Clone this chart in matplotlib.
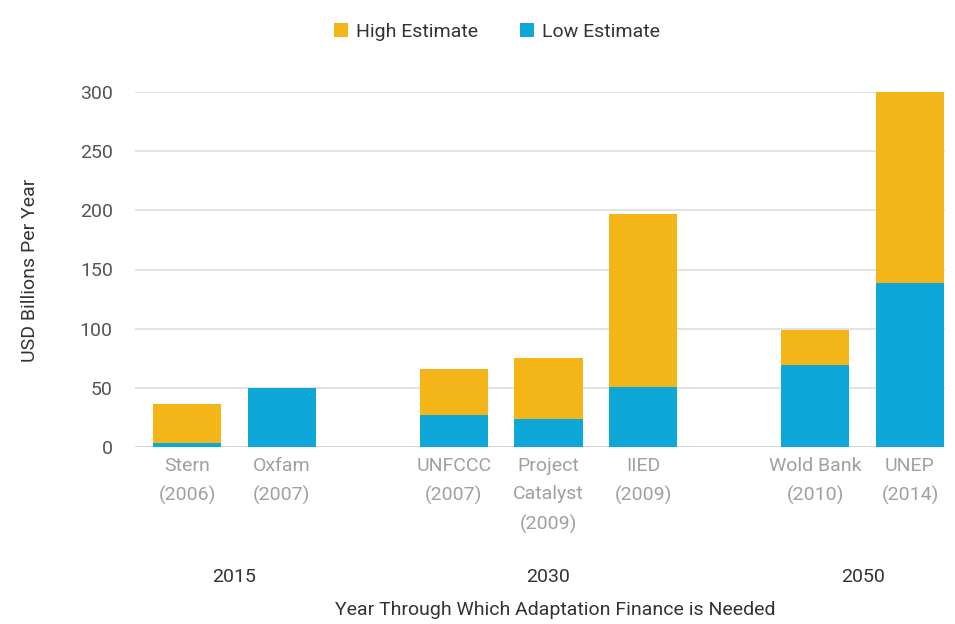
import numpy as np
import matplotlib
matplotlib.use("Agg")
from matplotlib import pyplot as plt
from matplotlib.transforms import blended_transform_factory

plt.rcParams['font.family'] = ['Roboto', 'DejaVu Sans']

# estimates in USD billions per year
studies = ["Stern\n(2006)", "Oxfam\n(2007)",
           "UNFCCC\n(2007)", "Project\nCatalyst\n(2009)", "IIED\n(2009)",
           "Wold Bank\n(2010)", "UNEP\n(2014)"]
group_of = [0, 0, 1, 1, 1, 2, 2]
groups = ["2015", "2030", "2050"]
low_est = [3, 50, 27, 24, 51, 69, 139]
high_est = [36, 50, 66, 75, 197, 99, 300]

YELLOW = "#F3B517"
BLUE = "#0DA8D7"

# bar positions with a wider gap between year groups
gap = 0.82
x = np.array([i + gap * g for i, g in enumerate(group_of)], dtype=float)
low = np.array(low_est)
top = np.array(high_est) - low

fig = plt.figure(figsize=(9.55, 6.24), dpi=100)
ax = fig.add_axes([135 / 955, 1 - 447 / 624, 810 / 955, 355 / 624])

w = 0.72
ax.bar(x, low, width=w, color=BLUE, label="Low Estimate", zorder=3)
ax.bar(x, top, bottom=low, width=w, color=YELLOW, label="High Estimate", zorder=3)

ax.set_ylim(0, 300)
ax.set_xlim(x[0] - w / 2 - 0.19, x[-1] + w / 2 + 0.01)
ax.set_yticks(range(0, 301, 50))
ax.yaxis.grid(True, color="#dedede", linewidth=1.2, zorder=0)
ax.set_axisbelow(True)
for s in ["top", "right", "left", "bottom"]:
    ax.spines[s].set_visible(False)
ax.axhline(0, color="#d6d6d6", linewidth=1.4, zorder=1)

ax.tick_params(axis="y", length=0, pad=16, labelsize=14, labelcolor="#555555")
ax.set_xticks(x)
ax.set_xticklabels(studies, fontsize=14, color="#a0a0a0", linespacing=1.75, va="top")
ax.tick_params(axis="x", length=0, pad=7)

# year group labels under the study names
trans = blended_transform_factory(ax.transData, fig.transFigure)
for g, name in enumerate(groups):
    xs = x[np.array(group_of) == g]
    ax.text(xs.mean(), 1 - 577 / 624, name, transform=trans, ha="center",
            va="center", fontsize=14, color="#333333")

fig.text(555 / 955, 1 - 610 / 624, "Year Through Which Adaptation Finance is Needed",
         ha="center", va="center", fontsize=14, color="#333333")
fig.text(30 / 955, 1 - 270 / 624, "USD Billions Per Year", rotation=90,
         ha="center", va="center", fontsize=14, color="#333333")

handles, labels = ax.get_legend_handles_labels()
fig.legend(handles[::-1], labels[::-1], loc="center", bbox_to_anchor=(497 / 955, 1 - 32 / 624),
           ncol=2, frameon=False, fontsize=14, handlelength=0.7, handleheight=0.7,
           handletextpad=0.4, columnspacing=2.2, labelcolor="#333333")

fig.savefig("out.png", dpi=100)
